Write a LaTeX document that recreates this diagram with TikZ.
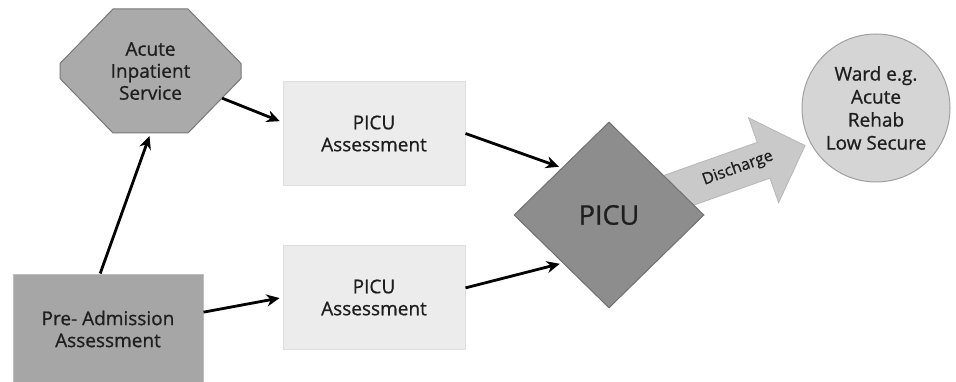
\documentclass[tikz,border=0pt]{standalone}
\usepackage{fontspec}
\setmainfont{Open Sans}[FakeBold=0.8]
\usetikzlibrary{shapes.geometric,arrows.meta,calc}

\definecolor{acutegray}{RGB}{170,170,170}
\definecolor{acuteline}{RGB}{120,120,120}
\definecolor{pregray}{RGB}{166,166,166}
\definecolor{preline}{RGB}{190,190,190}
\definecolor{assessgray}{RGB}{236,236,236}
\definecolor{assessline}{RGB}{222,222,222}
\definecolor{picugray}{RGB}{141,141,141}
\definecolor{piculine}{RGB}{112,112,112}
\definecolor{dischgray}{RGB}{201,201,201}
\definecolor{dischline}{RGB}{182,182,182}
\definecolor{wardgray}{RGB}{213,213,213}
\definecolor{wardline}{RGB}{160,160,160}
\definecolor{inkgray}{RGB}{30,30,30}

\tikzset{
  every node/.style={text=inkgray, align=center, inner sep=0pt,
    font=\fontsize{19}{22}\selectfont},
  acutebox/.style={rectangle, minimum width=181pt, minimum height=124pt},
  prebox/.style={rectangle, minimum width=190pt, minimum height=110pt,
    fill=pregray, draw=preline, line width=1pt},
  assessbox/.style={rectangle, minimum width=182pt, minimum height=104pt,
    fill=assessgray, draw=assessline, line width=1pt},
  picubox/.style={diamond, minimum width=190pt, minimum height=186pt,
    fill=picugray, draw=piculine, line width=1pt,
    font=\fontsize{27}{30}\selectfont},
  wardbox/.style={circle, minimum size=148pt, fill=wardgray, draw=wardline,
    line width=1pt, font=\fontsize{19}{23}\selectfont},
  flow/.style={-{Stealth[length=13pt,width=12pt]}, line width=2.8pt, black,
    shorten >=3pt}
}

\begin{document}
\begin{tikzpicture}[x=1pt,y=-1pt]
  \fill[white] (0,0) rectangle (956,382);
  \useasboundingbox (0,0) rectangle (956,382);

  % octagon for the inpatient service
  \coordinate (acutec) at (150.5,71);
  \filldraw[fill=acutegray, draw=acuteline, line width=1pt]
    ($(acutec)+(-37.5,-62)$) -- ($(acutec)+(37.5,-62)$) -- ($(acutec)+(90.5,-7.5)$)
    -- ($(acutec)+(90.5,7.5)$) -- ($(acutec)+(37.5,62)$) -- ($(acutec)+(-37.5,62)$)
    -- ($(acutec)+(-90.5,7.5)$) -- ($(acutec)+(-90.5,-7.5)$) -- cycle;
  \node[acutebox] (acute) at (acutec) {Acute\\Inpatient\\Service};

  \node[prebox] (pre) at (108,329) {Pre- Admission\\Assessment};
  \node[assessbox] (pa1) at (374,133.5) {PICU\\Assessment};
  \node[assessbox] (pa2) at (374,297.5) {PICU\\Assessment};
  \node[wardbox] (ward) at (876,108) {Ward e.g.\\Acute\\Rehab\\Low Secure};

  % discharge arrow, under the diamond
  \coordinate (picuc) at (609,215);
  \begin{scope}[shift={(picuc)}, rotate=19.5]
    \filldraw[fill=dischgray, draw=dischline, line width=0.8pt]
      (0,-19) -- (164,-19) -- (164,-45) -- (208,0) -- (164,45) -- (164,19)
      -- (0,19) -- cycle;
    \node[rotate=20, font=\fontsize{16}{18}\selectfont] (disch) at (137,-1) {Discharge};
  \end{scope}

  \node[picubox] (picu) at (picuc) {PICU};

  \draw[flow] (pre.98) -- (acute.south);
  \draw[flow] ($(acute.south east)+(-19,-35)$) -- (pa1.173);
  \draw[flow] (pre.10) -- (pa2.west);
  \draw[flow] (pa1.east) -- (picu.135);
  \draw[flow] (pa2.6) -- (picu.226);
\end{tikzpicture}
\end{document}
